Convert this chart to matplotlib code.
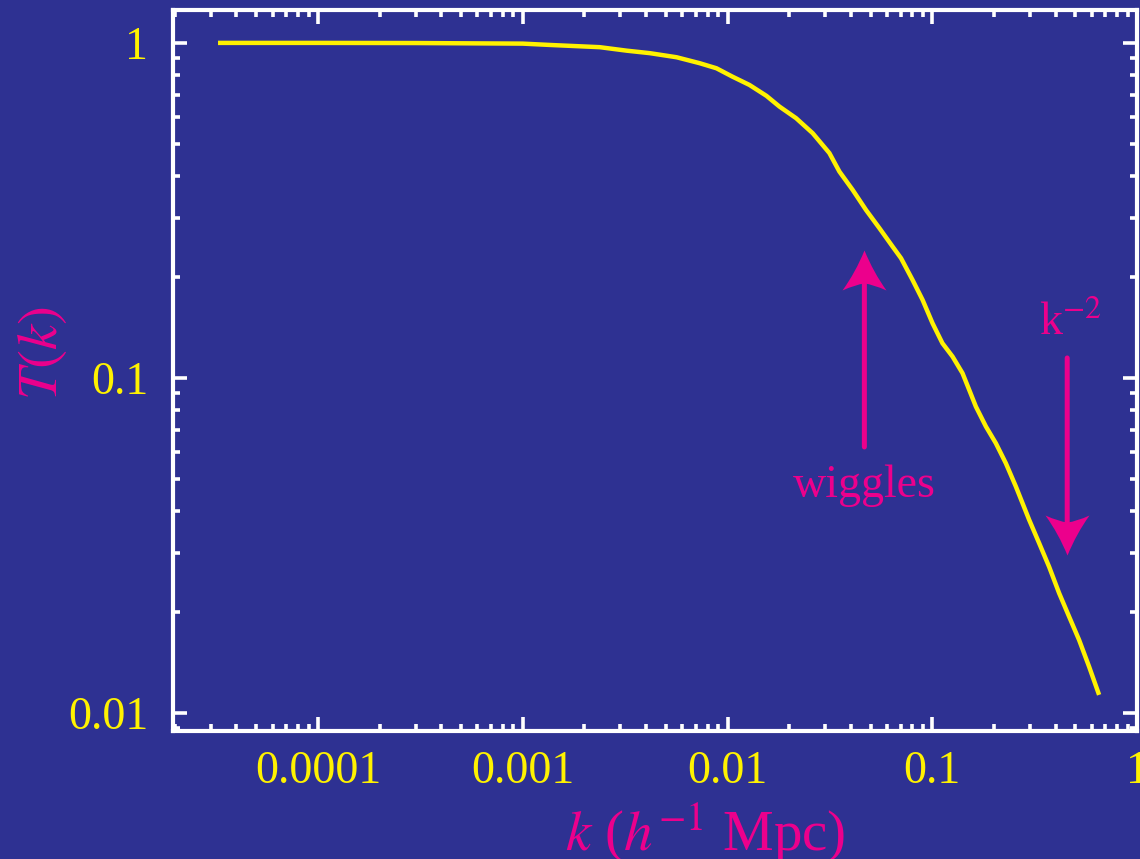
import numpy as np
from matplotlib import pyplot as plt
from matplotlib.path import Path
from matplotlib.ticker import FixedLocator, FixedFormatter, NullFormatter, LogLocator

# transfer function
k_vals = [3.25e-5, 1e-4, 3e-4, 1e-3, 0.001355, 0.001694, 0.002377, 0.003217, 0.004169,
          0.005642, 0.0073, 0.00883, 0.01057, 0.0128, 0.01549, 0.01794, 0.02163,
          0.02606, 0.03144, 0.03519, 0.04086, 0.04749, 0.05516, 0.0640, 0.07037,
          0.0801, 0.0897, 0.1003, 0.1121, 0.1256, 0.1405, 0.1515, 0.1633, 0.1828,
          0.2045, 0.2288, 0.2560, 0.2973, 0.3327, 0.3721, 0.4165, 0.4659, 0.5213,
          0.5831, 0.6527]
t_vals = [1.0, 1.0, 0.999, 0.995, 0.986, 0.980, 0.971, 0.948, 0.932,
          0.906, 0.870, 0.840, 0.793, 0.749, 0.695, 0.6455, 0.596,
          0.5376, 0.469, 0.413, 0.364, 0.317, 0.280, 0.2466, 0.2277,
          0.1961, 0.1709, 0.1456, 0.1269, 0.1158, 0.1033, 0.0921, 0.0821, 0.0716,
          0.0638, 0.0556, 0.0474, 0.0377, 0.0321, 0.0273, 0.02277, 0.01938, 0.01651,
          0.01375, 0.01132]

x_ticks = [1e-4, 1e-3, 1e-2, 1e-1, 1]
x_labels = ['0.0001', '0.001', '0.01', '0.1', '1']
y_ticks = [0.01, 0.1, 1]
y_labels = ['0.01', '0.1', '1']

BG = '#2E3192'
YELLOW = '#FFF200'
MAGENTA = '#EC008C'

plt.rcParams['font.family'] = ['Liberation Serif', 'DejaVu Serif']
plt.rcParams['mathtext.fontset'] = 'stix'


def head_path(down=False):
    # arrow head with slightly concave sides, tip at the origin
    s = -1 if down else 1
    verts = [(0, 0), (9, -22 * s), (22, -40 * s), (9, -34 * s), (0, -33 * s),
             (-9, -34 * s), (-22, -40 * s), (-9, -22 * s), (0, 0), (0, 0)]
    codes = [Path.MOVETO, Path.CURVE3, Path.CURVE3, Path.CURVE3, Path.CURVE3,
             Path.CURVE3, Path.CURVE3, Path.CURVE3, Path.CURVE3, Path.CLOSEPOLY]
    return Path(verts, codes)


def arrow(ax, tail, tip, down=False):
    ax.annotate('', xy=tip, xytext=tail,
                arrowprops=dict(arrowstyle='-', lw=3.6, color=MAGENTA,
                                shrinkA=0, shrinkB=21))
    ax.plot([tip[0]], [tip[1]], marker=head_path(down), markersize=57.6,
            markerfacecolor=MAGENTA, markeredgewidth=0, linestyle='none')


def main():
    fig = plt.figure(figsize=(11.4, 8.59), dpi=100, facecolor=BG)
    ax = fig.add_axes([0.1518, 0.149, 0.8456, 0.8394])
    ax.set_facecolor(BG)

    ax.plot(k_vals, t_vals, color=YELLOW, lw=3.2, solid_capstyle='butt',
            solid_joinstyle='round')

    ax.set_xscale('log')
    ax.set_yscale('log')
    ax.set_xlim(1.96e-5, 1.0)
    ax.set_ylim(0.00883, 1.254)

    ax.xaxis.set_major_locator(FixedLocator(x_ticks))
    ax.xaxis.set_major_formatter(FixedFormatter(x_labels))
    ax.yaxis.set_major_locator(FixedLocator(y_ticks))
    ax.yaxis.set_major_formatter(FixedFormatter(y_labels))
    for axis in (ax.xaxis, ax.yaxis):
        axis.set_minor_locator(LogLocator(base=10, subs=np.arange(2, 10), numticks=20))
        axis.set_minor_formatter(NullFormatter())

    for sp in ax.spines.values():
        sp.set_color('white')
        sp.set_linewidth(3.0)
    ax.tick_params(which='both', direction='in', top=True, right=True,
                   color='white', width=2.6)
    ax.tick_params(which='major', length=10)
    ax.tick_params(which='minor', length=5)
    ax.tick_params(axis='x', which='major', labelsize=33, labelcolor=YELLOW, pad=14)
    ax.tick_params(axis='y', which='major', labelsize=33, labelcolor=YELLOW, pad=18)

    ax.set_xlabel('$k$ ($h^{-1}$ Mpc)', color=MAGENTA, fontsize=41)
    ax.xaxis.set_label_coords(0.552, -0.097)
    ax.set_ylabel('$T(k)$', color=MAGENTA, fontsize=41)
    ax.yaxis.set_label_coords(-0.108, 0.524)

    # annotations
    arrow(ax, (0.0466, 0.0622), (0.0466, 0.241))
    ax.text(0.0466, 0.0441, 'wiggles', color=MAGENTA, fontsize=33,
            ha='center', va='baseline')
    arrow(ax, (0.456, 0.1147), (0.456, 0.0296), down=True)
    ax.text(0.471, 0.1343, 'k$^{-2}$', color=MAGENTA, fontsize=33,
            ha='center', va='baseline')

    fig.savefig('out.png', dpi=100, facecolor=BG)


if __name__ == '__main__':
    main()
